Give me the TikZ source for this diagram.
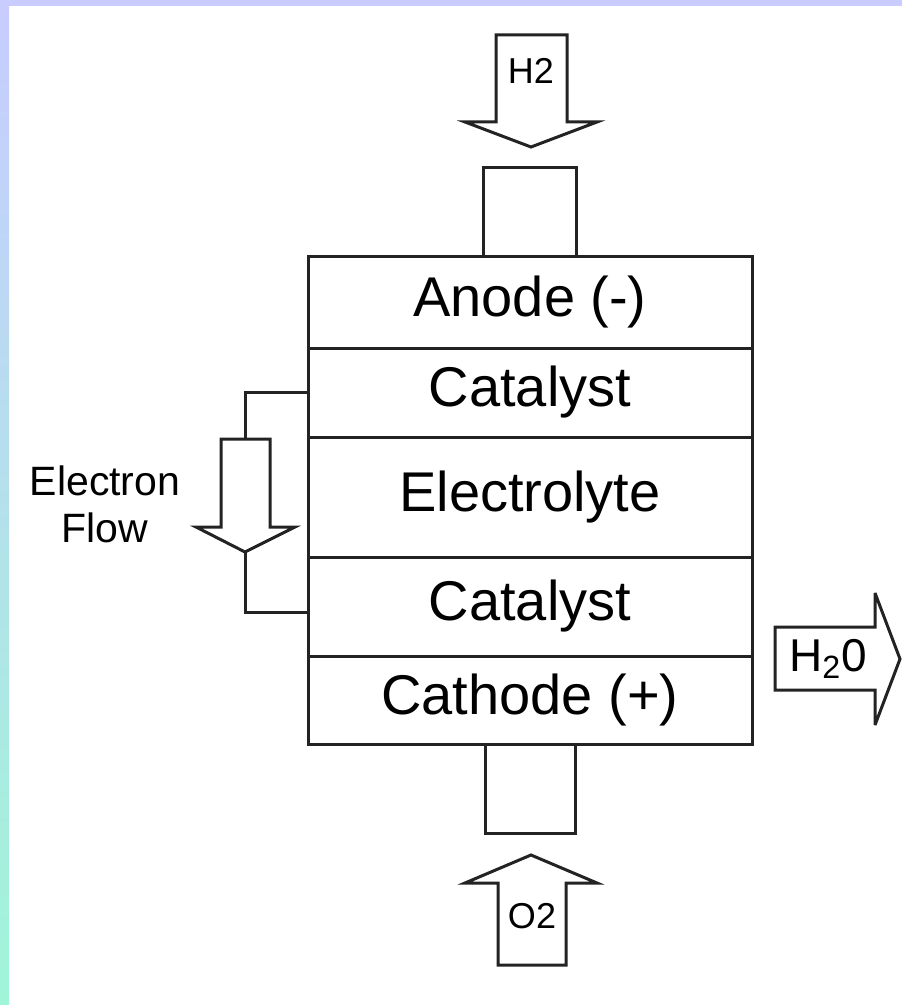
\documentclass[tikz,border=0pt]{standalone}
\usepackage{fontspec}
\setmainfont{Liberation Sans}
\usetikzlibrary{positioning}
\definecolor{bandlav}{RGB}{200, 204, 255}
\definecolor{bandaqua}{RGB}{160, 245, 216}
\definecolor{inkgray}{RGB}{35, 35, 35}

\begin{document}
\begin{tikzpicture}[x=0.5pt, y=-0.5pt,
        layer/.style={rectangle, draw=inkgray, line width=1.5pt, outer sep=0pt,
            inner sep=0pt, minimum width=222pt, font=\fontsize{28}{30}\selectfont},
        stub/.style={rectangle, draw=inkgray, line width=1.5pt, outer sep=0pt,
            inner sep=0pt, minimum height=44.5pt},
        blockarrow/.style={draw=inkgray, line width=1.5pt, fill=white, line join=miter},
        wire/.style={draw=inkgray, line width=1.5pt},
        gaslabel/.style={inner sep=0pt, font=\fontsize{18}{20}\selectfont}
    ]
        % frame
        \useasboundingbox (0,0) rectangle (902,1005);
        \fill[white] (0,0) rectangle (902,1005);
        \fill[bandlav] (0,0) rectangle (902,6);
        \shade[top color=bandlav, bottom color=bandaqua] (0,0) rectangle (9,1005);

        % fuel cell stack
        \node[layer, minimum height=45.5pt] (anode) at (530,302.5) {Anode (-)};
        \node[layer, minimum height=44.5pt, below=0pt of anode] (catup) {Catalyst};
        \node[layer, minimum height=60pt, below=0pt of catup] (elec) {Electrolyte};
        \node[layer, minimum height=49.5pt, below=0pt of elec] (catlow) {Catalyst};
        \node[layer, minimum height=44pt, below=0pt of catlow] (cathode) {Cathode (+)};

        \node[stub, minimum width=46.5pt, above=0pt of anode] (stubup) {};
        \node[stub, minimum width=45pt, below=0pt of cathode] (stublow) {};

        % gas in and out
        \draw[blockarrow] (496,35) -- (567,35) -- (567,122) -- (597,122) -- (531,147)
            -- (465,122) -- (496,122) -- cycle;
        \node[gaslabel] (htwo) at (531,71) {H2};

        \draw[blockarrow] (498,965) -- (566,965) -- (566,883) -- (597,883) -- (531,855)
            -- (465,883) -- (498,883) -- cycle;
        \node[gaslabel] (otwo) at (532,916) {O2};

        \draw[blockarrow, miter limit=2] (775,627) -- (875,627) -- (875,593) -- (900,659)
            -- (875,725) -- (875,690) -- (775,690) -- cycle;
        \node[inner sep=0pt, font=\fontsize{23}{25}\selectfont] (water) at (828,659) {H\textsubscript{2}0};

        % electron flow
        \coordinate (etop) at (245,439);
        \coordinate (etip) at (245,552);
        \draw[blockarrow] (221,439) -- (270,439) -- (270,527) -- (295,527) -- (etip)
            -- (196,527) -- (221,527) -- cycle;
        \draw[wire] (catup.west) -| (etop);
        \draw[wire] (etip) |- ([yshift=-3pt]catlow.west);
        \node[align=center, font=\fontsize{20.5}{23.5}\selectfont] (eflowlbl) at (105,504) {Electron\\Flow};
    \end{tikzpicture}
\end{document}
